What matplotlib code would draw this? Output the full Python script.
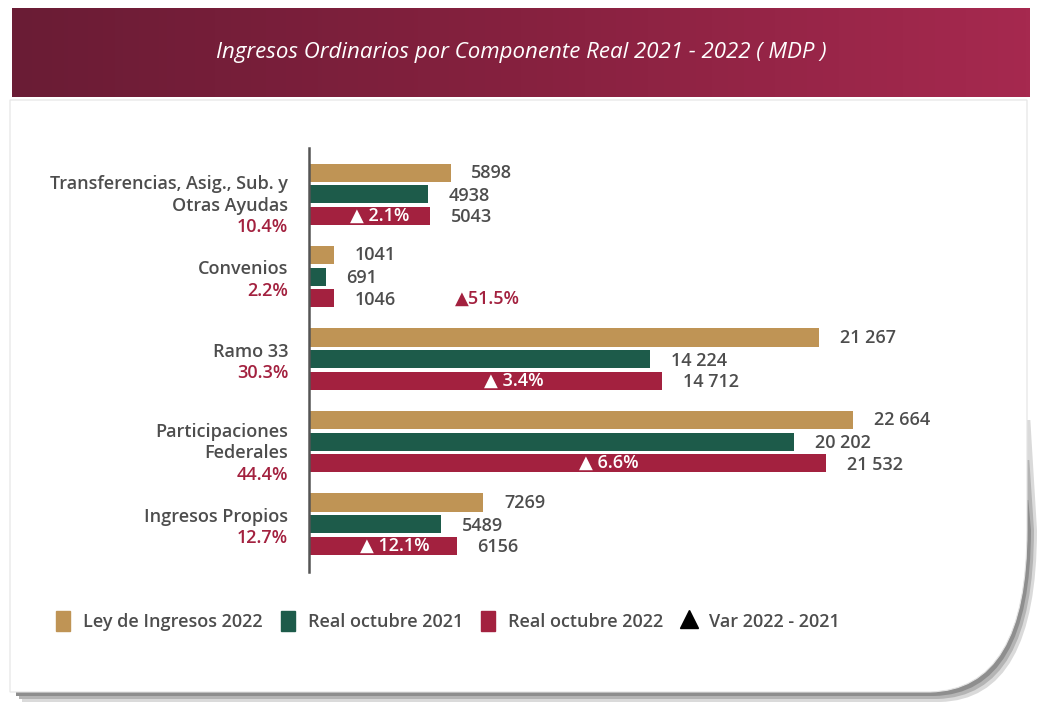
import numpy as np, matplotlib.pyplot as plt
from matplotlib.path import Path
from matplotlib.patches import PathPatch, Patch
from matplotlib.lines import Line2D
from matplotlib.colors import LinearSegmentedColormap

# data
categories = [["Transferencias, Asig., Sub. y", "Otras Ayudas"], ["Convenios"], ["Ramo 33"],
              ["Participaciones", "Federales"], ["Ingresos Propios"]]
shares = ["10.4%", "2.2%", "30.3%", "44.4%", "12.7%"]
ley_2022 = [5898, 1041, 21267, 22664, 7269]
real_oct_2021 = [4938, 691, 14224, 20202, 5489]
real_oct_2022 = [5043, 1046, 14712, 21532, 6156]
var_pct = [2.1, 51.5, 3.4, 6.6, 12.1]
series_names = ["Ley de Ingresos 2022", "Real octubre 2021", "Real octubre 2022"]

GOLD, GREEN, RED = "#bf9455", "#1d5b4a", "#a3213f"
GREY = "#4d4d4d"
W, H = 1038, 705
FONT = ["Open Sans", "DejaVu Sans"]

def fx(x): return x / W
def fy(y): return 1 - y / H
def P(pts): return [(fx(x), fy(y)) for x, y in pts]

fig = plt.figure(figsize=(W / 100, H / 100), dpi=100)

# shadow (bottom + curled corner) then white card
M, L, C, Z = Path.MOVETO, Path.LINETO, Path.CURVE3, Path.CLOSEPOLY
def shadow(dx, dy, top):
    return Path(P([(12 + dx, 600), (12 + dx, 692 + dy), (930 + dx, 692 + dy), (1027 + dx, 690 + dy),
                   (1027 + dx, 530), (1027 + dx / 3, top), (1010, top), (1000, 600), (12 + dx, 600)]),
                [M, L, L, C, C, L, L, L, Z])
for (dx, dy, top), col in zip([(10, 10, 420), (7, 7, 460), (4, 4, 500)], ["#dadada", "#b4b4b4", "#8e8e8e"]):
    fig.patches.append(PathPatch(shadow(dx, dy, top), transform=fig.transFigure, fc=col, ec="none", zorder=-2))
card = Path(P([(10, 100), (1027, 100), (1027, 530), (1027, 690), (930, 692), (930, 692),
               (10, 692), (10, 100)]), [M, L, L, C, C, L, L, Z])
fig.patches.append(PathPatch(card, transform=fig.transFigure, fc="white", ec="#e4e4e4", lw=0.8, zorder=-1))

# title banner with gradient
bax = fig.add_axes([fx(12), fy(97), fx(1030) - fx(12), fy(8) - fy(97)])
grad = np.linspace(0, 1, 256)[None, :]
cmap = LinearSegmentedColormap.from_list("banner", ["#6a1c35", "#86213f", "#a6294f"])
bax.imshow(grad, aspect="auto", cmap=cmap, extent=[0, 1, 0, 1])
bax.set_axis_off()
bax.text(0.5, 0.5, "Ingresos Ordinarios por Componente Real 2021 - 2022 ( MDP )", color="white",
         ha="center", va="center", fontsize=16, style="italic", family=FONT)

# chart
ax = fig.add_axes([fx(309), fy(572), fx(1000) - fx(309), fy(148) - fy(572)])
ax.patch.set_alpha(0)
ax.set_xlim(0, 28790)
ax.set_ylim(4.58, -0.56)
for s in ["top", "right", "bottom"]:
    ax.spines[s].set_visible(False)
ax.spines["left"].set_color("#555555"); ax.spines["left"].set_linewidth(1.8)
ax.set_xticks([]); ax.set_yticks([])

idx = np.arange(len(categories))
step, bh = 0.262, 0.22
FS = 13
def fmt(v): return f"{v:,}".replace(",", " ") if v >= 10000 else str(v)

for j, (vals, c) in enumerate(zip([ley_2022, real_oct_2021, real_oct_2022], [GOLD, GREEN, RED])):
    ys = idx + (j - 1) * step
    ax.barh(ys, vals, height=bh, color=c, label=series_names[j])
    for y, v in zip(ys, vals):
        ax.annotate(fmt(v), (v, y), xytext=(15, -1 if j else 0), textcoords="offset points",
                    ha="left", va="center", fontsize=FS, color=GREY, weight="semibold", family=FONT)

# variation labels
for i, (v, p) in enumerate(zip(real_oct_2022, var_pct)):
    y = idx[i] + step
    if v > 3000:
        ax.text(v * 0.58, y, f"▲ {p}%", ha="center", va="center", color="white",
                fontsize=FS, weight="semibold", family=FONT)
    else:
        ax.annotate(f"▲{p}%", (v, y), xytext=(87, 0), textcoords="offset points",
                    ha="left", va="center", color=RED, fontsize=FS, weight="semibold", family=FONT)

# category labels
tr = ax.get_yaxis_transform()
px = 1 / 82.5
for i, (lines, sh) in enumerate(zip(categories, shares)):
    n = len(lines) + 1
    last = idx[i] + (-5 + (n - 1) * 19) * px
    for k, t in enumerate(lines):
        ax.text(-0.03, last - (len(lines) - k) * 21.5 * px, t, transform=tr, ha="right",
                va="center", fontsize=FS, color=GREY, weight="semibold", family=FONT)
    ax.text(-0.03, last, sh, transform=tr, ha="right", va="center",
            fontsize=FS, color=RED, weight="semibold", family=FONT)

# legend
handles = [Patch(color=GOLD), Patch(color=GREEN), Patch(color=RED),
           Line2D([], [], marker="^", color="black", ls="none", markersize=13)]
fig.legend(handles, series_names + ["Var 2022 - 2021"], ncol=4, frameon=False,
           loc="center left", bbox_to_anchor=(fx(40), fy(621)), handlelength=0.75,
           handleheight=1.35, handletextpad=0.75, columnspacing=1.0,
           prop=dict(family=FONT, size=13, weight="semibold"), labelcolor=GREY)

fig.savefig("out.png", dpi=100)
